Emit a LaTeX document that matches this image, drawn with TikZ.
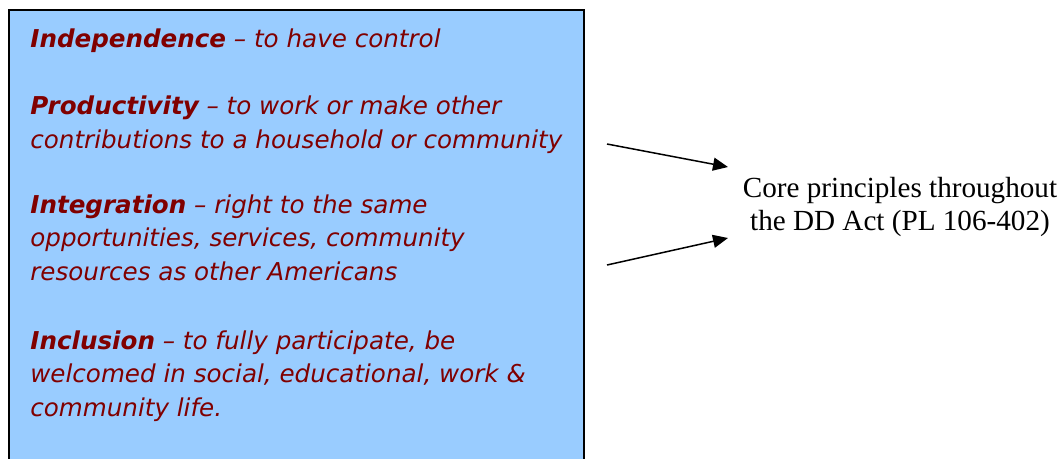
\documentclass[tikz,border=0pt]{standalone}
\usepackage{fontspec}
\setmainfont{Liberation Serif}
\newfontfamily\boxfont{DejaVu Sans}
\usetikzlibrary{arrows.meta, positioning}
\definecolor{boxblue}{HTML}{99CCFF}
\definecolor{darkred}{HTML}{800000}
\tikzstyle{box} = [draw, fill=boxblue, line width=0.04cm]
\tikzstyle{para} = [anchor=base west, align=left, inner sep=0pt, text=darkred, font=\boxfont\itshape\fontsize{14}{18.8}\selectfont]
\tikzstyle{core} = [align=center, inner sep=0pt, font=\fontsize{16.6}{18.8}\selectfont]
\newcommand{\term}[1]{\textbf{#1}}

\begin{document}
\begin{tikzpicture}[x=0.02cm, y=-0.02cm, >={Triangle[length=0.3cm, width=0.26cm]}]
      \useasboundingbox (0,0) rectangle (1063,458);
      \path[box] (9,10) rectangle (584,480);
      \node[para] (indep) at (30,47) {\term{Independence} – to have control};
      \node[para] (prod) at (30,148) {\term{Productivity} – to work or make other\\contributions to a household or community};
      \node[para] (integ) at (30,280) {\term{Integration} – right to the same\\opportunities, services, community\\resources as other Americans};
      \node[para] (incl) at (30,416) {\term{Inclusion} – to fully participate, be\\welcomed in social, educational, work \&\\community life.};
      \node[core] (core) at (900,207) {Core principles throughout\\the DD Act (PL 106-402)};
      \coordinate (s1) at (607,144);
      \coordinate (t1) at (728,167);
      \coordinate (s2) at (607,265);
      \coordinate (t2) at (728,238);
      \draw[->, line width=0.03cm] (s1) -- (t1);
      \draw[->, line width=0.03cm] (s2) -- (t2);
    \end{tikzpicture}
\end{document}
